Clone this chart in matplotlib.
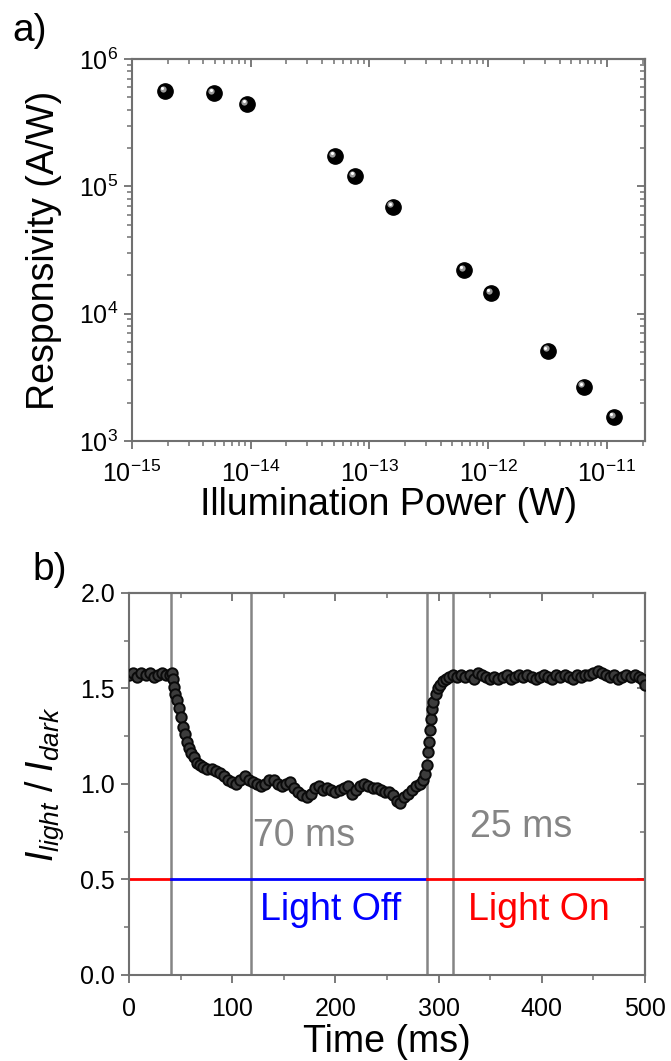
import matplotlib
matplotlib.use("Agg")
import matplotlib.pyplot as plt
import numpy as np
from matplotlib.ticker import LogLocator, NullFormatter, MultipleLocator, FormatStrFormatter, FixedLocator
from matplotlib.transforms import offset_copy

plt.rcParams["font.family"] = ["Liberation Sans", "DejaVu Sans"]
plt.rcParams["mathtext.fontset"] = "custom"
plt.rcParams["mathtext.rm"] = "Liberation Sans"
plt.rcParams["mathtext.it"] = "Liberation Sans:italic"
plt.rcParams["mathtext.bf"] = "Liberation Sans:bold"

# panel a: responsivity vs illumination power
power = [1.9e-15, 4.9e-15, 9.3e-15, 5.1e-14, 7.5e-14, 1.58e-13,
         6.3e-13, 1.06e-12, 3.2e-12, 6.4e-12, 1.16e-11]
resp = [5.6e5, 5.4e5, 4.4e5, 1.73e5, 1.2e5, 6.9e4,
        2.2e4, 1.44e4, 5.1e3, 2.66e3, 1.54e3]
power_ticks = [1e-15, 1e-14, 1e-13, 1e-12, 1e-11]
resp_ticks = [1e3, 1e4, 1e5, 1e6]

# panel b: I_light / I_dark vs time
t_ms = [0, 4, 8, 12, 16, 20, 24, 28, 32, 36, 40,
        42, 43, 44, 45, 46, 48, 50, 52, 54, 56, 58, 60, 63, 66, 69, 72, 76, 80,
        84, 88, 92, 96, 100, 104, 108, 112, 116, 120, 124, 128, 132, 136, 140,
        144, 148, 152, 156, 160, 164, 168, 172, 176, 180, 184, 188, 192, 196,
        200, 204, 208, 212, 216, 220, 224, 228, 232, 236, 240, 244, 248, 252,
        256, 260, 263, 266, 270, 274, 278, 282, 285, 287, 289, 290, 291, 292,
        293, 294, 295, 297, 299, 301, 304, 307, 310, 314, 318, 322, 326, 330,
        334, 338, 342, 346, 350, 354, 358, 362, 366, 370, 374, 378, 382, 386,
        390, 394, 398, 402, 406, 410, 414, 418, 422, 426, 430, 434, 438, 442,
        446, 450, 454, 458, 462, 466, 470, 474, 478, 482, 486, 490, 494, 497, 500]
ratio = [1.57, 1.58, 1.56, 1.58, 1.57, 1.58, 1.56, 1.57, 1.58, 1.57, 1.57,
         1.58, 1.55, 1.51, 1.47, 1.44, 1.40, 1.35, 1.30, 1.26, 1.22, 1.19, 1.16,
         1.14, 1.11, 1.10, 1.09, 1.08, 1.08,
         1.07, 1.06, 1.04, 1.02, 1.01, 1.00, 1.02, 1.04, 1.02, 1.01, 1.00, 0.99,
         1.00, 1.02, 1.02,
         1.00, 0.99, 1.00, 1.01, 0.98, 0.96, 0.94, 0.93, 0.95, 0.98, 0.99, 0.97,
         0.98, 0.97,
         0.96, 0.97, 0.98, 0.99, 0.95, 0.97, 0.99, 1.00, 0.99, 0.98, 0.98, 0.97,
         0.96, 0.96,
         0.94, 0.91, 0.90, 0.93, 0.95, 0.97, 0.99, 1.00, 1.02, 1.05, 1.10, 1.17,
         1.22, 1.28,
         1.34, 1.39, 1.43, 1.47, 1.50, 1.52, 1.54, 1.55, 1.56, 1.57, 1.56, 1.57,
         1.56, 1.57,
         1.55, 1.58, 1.57, 1.56, 1.55, 1.56, 1.55, 1.56, 1.57, 1.55, 1.56, 1.57,
         1.56, 1.57,
         1.56, 1.55, 1.56, 1.57, 1.56, 1.55, 1.57, 1.56, 1.57, 1.56, 1.55, 1.57,
         1.56, 1.57,
         1.57, 1.58, 1.59, 1.58, 1.57, 1.56, 1.57, 1.55, 1.56, 1.57, 1.56, 1.57,
         1.56, 1.55, 1.52]

switch_times = [41, 118, 289, 314]
light_edges = [0, 41, 289, 500]
light_colors = ["red", "blue", "red"]
light_level = 0.5

gray = "#707070"
fig = plt.figure(figsize=(6.71, 10.61), dpi=100)
ax1 = fig.add_axes([0.1967, 0.5844, 0.7646, 0.36])
ax2 = fig.add_axes([0.1923, 0.0811, 0.769, 0.36])

####ax1
ax1.set_xscale("log")
ax1.set_yscale("log")
ax1.plot(power, resp, "o", color="black", ms=11, zorder=3)
hl = offset_copy(ax1.transData, fig=fig, x=-2.5, y=2.5, units="dots")
ax1.plot(power, resp, "o", color="#9a9a9a", ms=4.5, mec="none", transform=hl, zorder=4)
hl2 = offset_copy(ax1.transData, fig=fig, x=-3, y=3, units="dots")
ax1.plot(power, resp, "o", color="white", ms=2.2, mec="none", transform=hl2, zorder=5)
ax1.set_xlim(1e-15, 2.1e-11)
ax1.set_ylim(1e3, 1e6)
ax1.xaxis.set_major_locator(FixedLocator(power_ticks))
ax1.yaxis.set_major_locator(FixedLocator(resp_ticks))
ax1.xaxis.set_minor_locator(LogLocator(base=10, subs=np.arange(2, 10), numticks=20))
ax1.yaxis.set_minor_locator(LogLocator(base=10, subs=np.arange(2, 10), numticks=20))
ax1.xaxis.set_minor_formatter(NullFormatter())
ax1.yaxis.set_minor_formatter(NullFormatter())
ax1.set_xlabel("Illumination Power (W)", fontsize=27, labelpad=0)
ax1.set_ylabel("Responsivity (A/W)", fontsize=27, labelpad=12)

####ax2
for tv in switch_times:
    ax2.axvline(tv, color="#858585", lw=1.8, zorder=2)
for i in range(len(light_colors)):
    ax2.plot([light_edges[i], light_edges[i + 1]], [light_level, light_level],
             color=light_colors[i], lw=2, zorder=2)
ax2.plot(t_ms, ratio, "o", ms=7.5, mfc="#3c3c3c", mec="#0a0a0a", mew=1.4, zorder=3)
ax2.text(120, 0.73, "70 ms", color="#858585", fontsize=27, va="center", ha="left")
ax2.text(330, 0.775, "25 ms", color="#858585", fontsize=27, va="center", ha="left")
ax2.text(127, 0.34, "Light Off", color="blue", fontsize=27, va="center", ha="left")
ax2.text(328, 0.34, "Light On", color="red", fontsize=27, va="center", ha="left")
ax2.set_xlim(0, 500)
ax2.set_ylim(0, 2)
ax2.xaxis.set_major_locator(MultipleLocator(100))
ax2.xaxis.set_minor_locator(MultipleLocator(50))
ax2.yaxis.set_major_locator(MultipleLocator(0.5))
ax2.yaxis.set_minor_locator(MultipleLocator(0.25))
ax2.yaxis.set_major_formatter(FormatStrFormatter("%.1f"))
ax2.set_xlabel("Time (ms)", fontsize=27, labelpad=2)
ax2.set_ylabel(r"$I_{light}$ / $I_{dark}$", fontsize=27, labelpad=10)

for ax in (ax1, ax2):
    for s in ax.spines.values():
        s.set_color(gray)
        s.set_linewidth(1.5)
    ax.tick_params(which="both", direction="out", color=gray, labelsize=18,
                   top=False, right=False)
    ax.tick_params(which="major", length=6, width=1.3, pad=4)
    ax.tick_params(which="minor", length=3.5, width=1.1)
    # mirrored inward ticks on top and right, without labels
    top = ax.secondary_xaxis("top")
    right = ax.secondary_yaxis("right")
    for sec in (top, right):
        sec.tick_params(which="both", direction="in", color=gray, labelleft=False,
                        labelright=False, labeltop=False, labelbottom=False)
        sec.tick_params(which="major", length=6, width=1.3)
        sec.tick_params(which="minor", length=3.5, width=1.1)
        for s in sec.spines.values():
            s.set_color(gray)
            s.set_linewidth(1.5)
    if ax is ax1:
        top.xaxis.set_major_locator(FixedLocator(power_ticks))
        right.yaxis.set_major_locator(FixedLocator(resp_ticks))
        top.xaxis.set_minor_locator(LogLocator(base=10, subs=np.arange(2, 10), numticks=20))
        right.yaxis.set_minor_locator(LogLocator(base=10, subs=np.arange(2, 10), numticks=20))
        top.xaxis.set_minor_formatter(NullFormatter())
        right.yaxis.set_minor_formatter(NullFormatter())
    else:
        top.xaxis.set_major_locator(MultipleLocator(100))
        top.xaxis.set_minor_locator(MultipleLocator(50))
        right.yaxis.set_major_locator(MultipleLocator(0.5))
        right.yaxis.set_minor_locator(MultipleLocator(0.25))

ax1.tick_params(axis="x", which="major", pad=8)
ax2.tick_params(axis="x", which="major", pad=10)

fig.text(0.019, 0.988, "a)", fontsize=28, va="top", ha="left")
fig.text(0.048, 0.480, "b)", fontsize=28, va="top", ha="left")

plt.savefig("out.png", dpi=100)
